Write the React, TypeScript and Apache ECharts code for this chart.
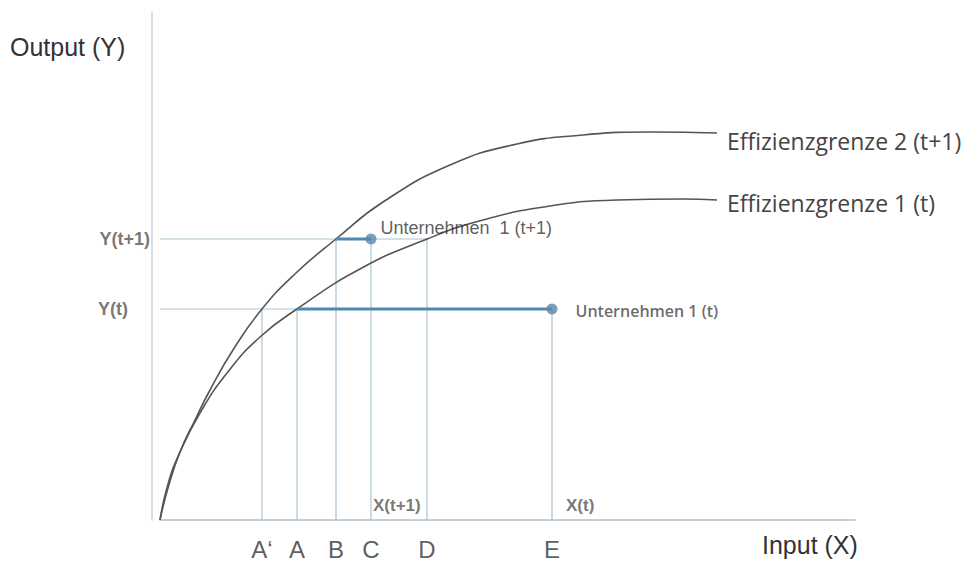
import React, { useEffect, useRef } from "react";
import * as echarts from "echarts";

// Positions along the input axis (X) for the marked points
const xMarks = ["A‘", "A", "B", "C", "D", "E"];
const xMarkValues = [102, 137, 176, 211, 267, 392];
// Output levels
const yLevelNames = ["Y(t)", "Y(t+1)"];
const yLevelValues = [211, 281];
const xLevelNames = ["X(t)", "X(t+1)"];

// Efficiency frontiers [input, output]
const frontier2: number[][] = [
  [0, 0], [8, 32], [20, 68], [35, 100], [50, 130], [73, 170], [102, 211], [136, 247],
  [176, 281], [223, 318], [290, 355], [357, 376], [423, 385], [490, 388], [557, 387],
];
const frontier1: number[][] = [
  [0, 0], [8, 36], [20, 68], [40, 107], [67, 147], [100, 183], [137, 211], [200, 251],
  [267, 281], [323, 300], [390, 314], [457, 320], [523, 321], [557, 320],
];
const frontierNames = ["Effizienzgrenze 2 (t+1)", "Effizienzgrenze 1 (t)"];

// Company observations
const companyNames = ["Unternehmen 1 (t)", "Unternehmen  1 (t+1)"];
const companyPoints: number[][] = [[392, 211], [211, 281]];
const frontierPoints: number[][] = [[137, 211], [176, 281]];

const guideColor = "#a9c3d0";
const thickColor = "#4f88b0";
const arial = "'Liberation Sans', Arial, sans-serif";

export default function App() {
  const ref = useRef<HTMLDivElement>(null);
  useEffect(() => {
    if (!ref.current) return;
    const chart = echarts.init(ref.current, null, { renderer: "svg" });
    const [xAp, xA, xB, xC, xD, xE] = xMarkValues;
    const [yT, yT1] = yLevelValues;

    const thin = (data: number[][]) => ({
      type: "line",
      data,
      symbol: "none",
      silent: true,
      lineStyle: { color: guideColor, width: 1.2 },
      z: 1,
    });

    const frontier = (name: string, data: number[][], offY: number) => ({
      type: "line",
      name,
      data,
      smooth: 0.5,
      symbol: "none",
      lineStyle: { color: "#555", width: 1.6 },
      endLabel: {
        show: true,
        formatter: name,
        distance: 10,
        offset: [0, offY],
        fontFamily: "'Open Sans', sans-serif",
        fontSize: 23,
        color: "#444",
      },
      z: 3,
    });

    const option: any = {
      animation: false,
      backgroundColor: "#ffffff",
      grid: { left: 160, right: 121, top: 12, bottom: 45 },
      xAxis: {
        type: "value",
        min: 0,
        max: 695,
        axisLine: { show: true, onZero: false, lineStyle: { color: "#b4c0c8", width: 1.5 } },
        axisTick: { show: false },
        axisLabel: { show: false },
        splitLine: { show: false },
      },
      yAxis: {
        type: "value",
        min: 0,
        max: 508,
        offset: 8,
        axisLine: { show: true, onZero: false, lineStyle: { color: "#cfd3d6", width: 1.5 } },
        axisTick: { show: false },
        axisLabel: { show: false },
        splitLine: { show: false },
      },
      graphic: [
        {
          type: "text",
          left: 10,
          top: 34,
          style: { text: "Output (Y)", font: `25px ${arial}`, fill: "#333" },
        },
        {
          type: "text",
          left: 762,
          top: 532,
          style: { text: "Input (X)", font: `25px ${arial}`, fill: "#333" },
        },
      ],
      series: [
        // horizontal guides
        thin([[0, yT1], [xD, yT1]]),
        thin([[0, yT], [xE, yT]]),
        // vertical guides
        thin([[xAp, 0], [xAp, yT]]),
        thin([[xA, 0], [xA, yT]]),
        thin([[xB, 0], [xB, yT1]]),
        thin([[xC, 0], [xC, yT1]]),
        thin([[xD, 0], [xD, yT1]]),
        thin([[xE, 0], [xE, yT]]),
        // frontiers
        frontier(frontierNames[0], frontier2, 8),
        frontier(frontierNames[1], frontier1, 3),
        // thick improvement segments
        {
          type: "line",
          data: [frontierPoints[0], companyPoints[0]],
          symbol: "none",
          lineStyle: { color: thickColor, width: 3 },
          z: 4,
        },
        {
          type: "line",
          data: [frontierPoints[1], companyPoints[1]],
          symbol: "none",
          lineStyle: { color: thickColor, width: 3 },
          z: 4,
        },
        // company dots
        {
          type: "scatter",
          symbolSize: 11,
          itemStyle: { color: "#5a87ab" },
          z: 5,
          data: [
            {
              value: companyPoints[0],
              label: {
                show: true,
                formatter: companyNames[0],
                position: "right",
                distance: 18,
                fontFamily: "'Open Sans', sans-serif",
                fontWeight: 600,
                fontSize: 16,
                color: "#444",
                offset: [0, 2],
              },
            },
            {
              value: companyPoints[1],
              label: {
                show: true,
                formatter: companyNames[1],
                position: "right",
                distance: 4,
                offset: [0, -11],
                fontFamily: arial,
                fontSize: 18,
                color: "#333",
              },
            },
          ],
        },
        // text labels attached to data positions
        {
          type: "scatter",
          symbolSize: 0,
          silent: true,
          z: 6,
          data: [
            ...xMarks.map((m, i) => ({
              value: [xMarkValues[i], 0],
              label: {
                show: true,
                formatter: m,
                position: "bottom",
                distance: 17,
                fontFamily: arial,
                fontSize: 24,
                color: "#333",
              },
            })),
            {
              value: [0, yT1],
              label: {
                show: true,
                formatter: yLevelNames[1],
                position: "left",
                distance: 10,
                fontFamily: arial,
                fontSize: 18,
                fontWeight: "bold",
                color: "#555",
              },
            },
            {
              value: [0, yT],
              label: {
                show: true,
                formatter: yLevelNames[0],
                position: "left",
                distance: 32,
                fontFamily: arial,
                fontSize: 18,
                fontWeight: "bold",
                color: "#555",
              },
            },
            {
              value: [xC, 15],
              label: {
                show: true,
                formatter: xLevelNames[1],
                position: "right",
                distance: 2,
                fontFamily: arial,
                fontSize: 17,
                fontWeight: "bold",
                color: "#555",
              },
            },
            {
              value: [xE, 15],
              label: {
                show: true,
                formatter: xLevelNames[0],
                position: "right",
                distance: 14,
                fontFamily: arial,
                fontSize: 17,
                fontWeight: "bold",
                color: "#555",
              },
            },
          ],
        },
      ],
    };
    chart.setOption(option);
    return () => chart.dispose();
  }, []);
  return <div ref={ref} style={{ width: 976, height: 565, position: "absolute", left: 0, top: 0 }} />;
}
